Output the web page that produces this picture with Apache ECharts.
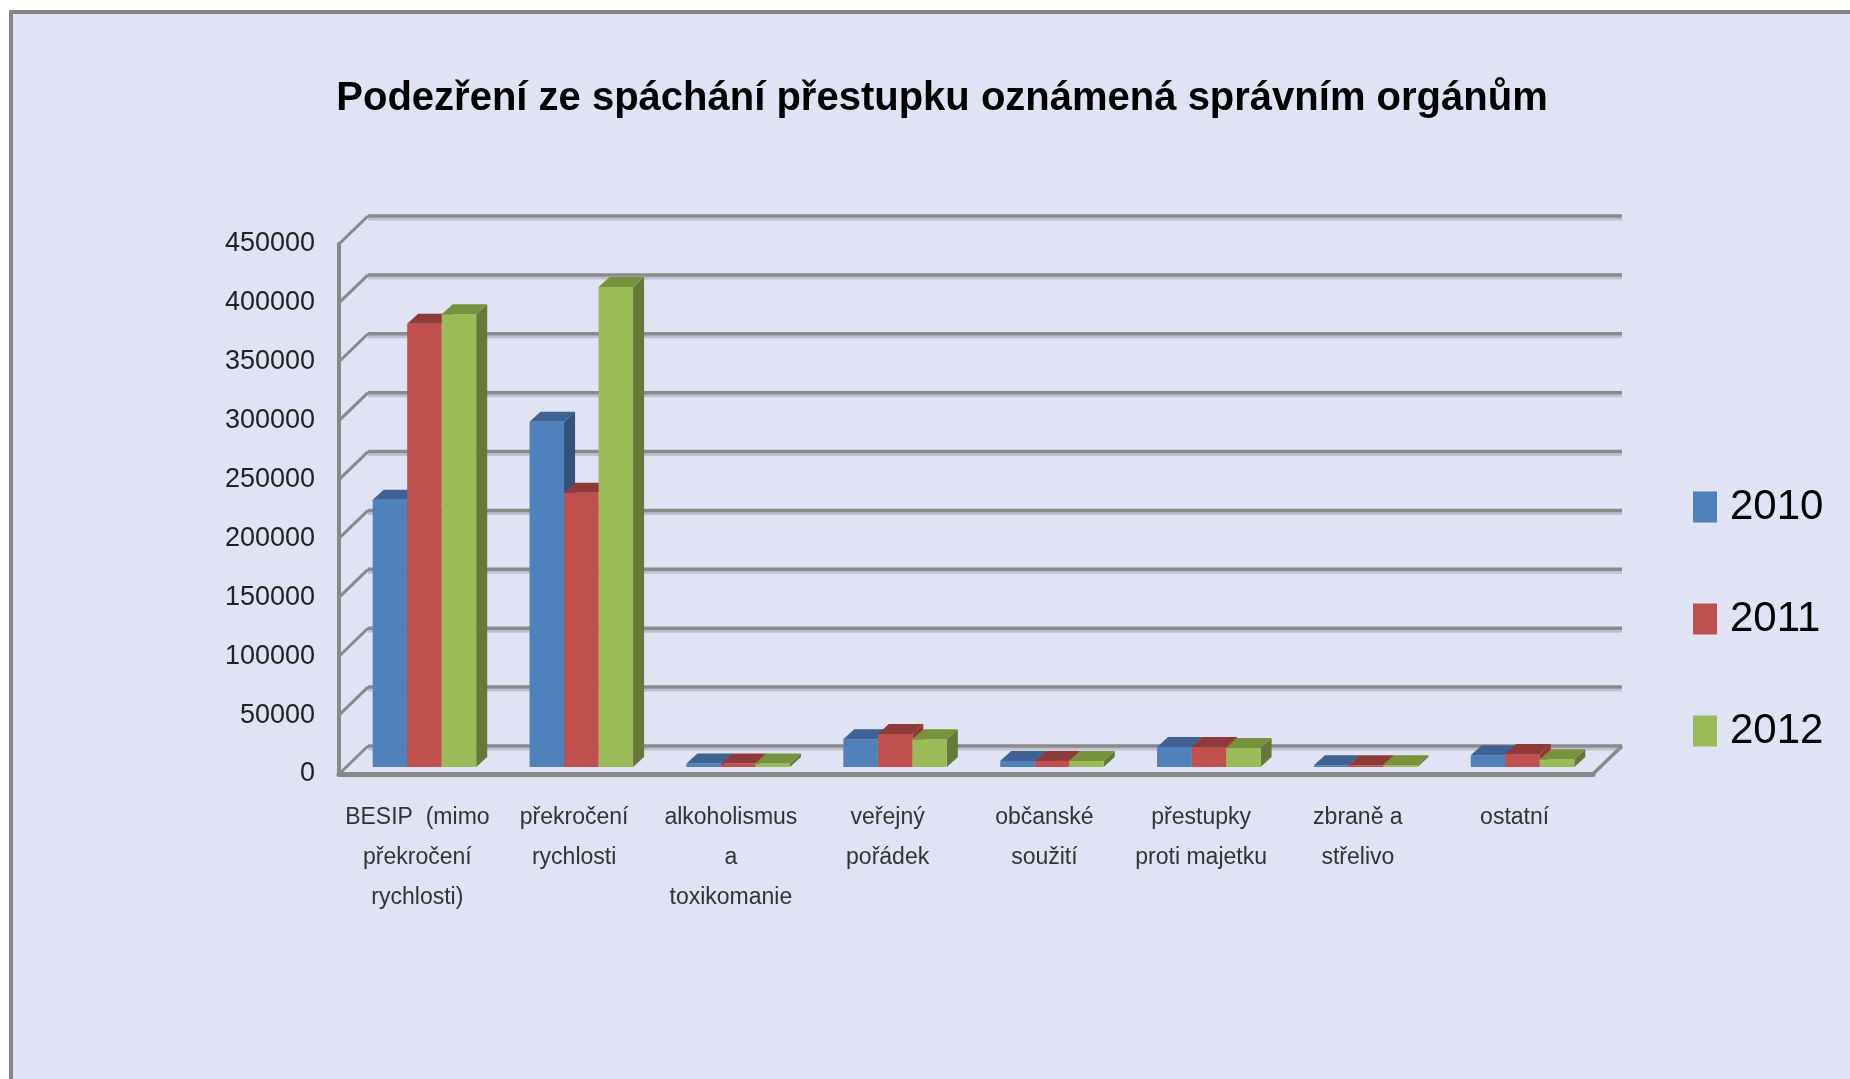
<!DOCTYPE html>
<html lang="cs">
<head>
    <meta charset="UTF-8">
    <title>Podezření ze spáchání přestupku</title>
    <style>
        html, body { margin: 0; padding: 0; background: #fff; overflow: hidden; }
        #main { width: 1850px; height: 1079px; }
    </style>
</head>
<body>
<div id="main"></div>
<script src="https://cdn.jsdelivr.net/npm/echarts@6/dist/echarts.min.js"></script>
<script>
    // data
    var kategorie = [
        'BESIP  (mimo\npřekročení\nrychlosti)',
        'překročení\nrychlosti',
        'alkoholismus\na\ntoxikomanie',
        'veřejný\npořádek',
        'občanské\nsoužití',
        'přestupky\nproti majetku',
        'zbraně a\nstřelivo',
        'ostatní'
    ];
    var roky = ['2010', '2011', '2012'];
    var hodnoty2010 = [226000, 292000, 3000, 23500, 5000, 17000, 1500, 10000];
    var hodnoty2011 = [375000, 232000, 3000, 28000, 5000, 17000, 1500, 11000];
    var hodnoty2012 = [383000, 406000, 3000, 23500, 5000, 16000, 1500, 6500];
    var osaY = [0, 50000, 100000, 150000, 200000, 250000, 300000, 350000, 400000, 450000];

    var barvy = [
        {celo: '#4F81BD', vrch: '#3D6293', bok: '#34517A'},
        {celo: '#C0504D', vrch: '#8E3A38', bok: '#943634'},
        {celo: '#9BBB59', vrch: '#76923C', bok: '#66783A'}
    ];

    // hloubka steny a sloupcu (px)
    var STENA_X = 29, STENA_Y = 28;
    var HLOUBKA_X = 11, HLOUBKA_Y = 10;

    var pismo = "'Liberation Sans', Arial, sans-serif";

    function kresliMrizku(params, api) {
        var v = api.value(1);
        var r = params.coordSys;
        var y = api.coord([0, v])[1];
        var x0 = r.x, x1 = r.x + r.width;
        var yb = y - STENA_Y;
        var deti = [
            {type: 'line', shape: {x1: x0 + STENA_X, y1: yb + 3, x2: x1 + STENA_X, y2: yb + 3},
                style: {stroke: '#BEC2D0', lineWidth: 3}},
            {type: 'line', shape: {x1: x0 + STENA_X, y1: yb, x2: x1 + STENA_X, y2: yb},
                style: {stroke: '#8A8A8A', lineWidth: 3.5}},
            {type: 'line', shape: {x1: x0, y1: y, x2: x0 + STENA_X, y2: yb},
                style: {stroke: '#8A8A8A', lineWidth: 3}}
        ];
        if (v === 0) {
            deti.push({type: 'line', shape: {x1: x1, y1: y, x2: x1 + STENA_X, y2: yb},
                style: {stroke: '#8A8A8A', lineWidth: 3.5}});
        }
        return {type: 'group', children: deti};
    }

    function kresliSloupec(poradi) {
        var b = barvy[poradi];
        return function (params, api) {
            var i = api.value(0);
            var dole = api.coord([i, 0]);
            var nahore = api.coord([i, api.value(1)]);
            var pas = api.size([1, 0])[0];
            var w = pas * 0.22;
            var x = dole[0] - 1.5 * w + poradi * w;
            var y0 = dole[1], y1 = nahore[1];
            return {
                type: 'group',
                children: [
                    {type: 'polygon', shape: {points: [[x + w, y1], [x + w + HLOUBKA_X, y1 - HLOUBKA_Y],
                        [x + w + HLOUBKA_X, y0 - HLOUBKA_Y], [x + w, y0]]}, style: {fill: b.bok}},
                    {type: 'rect', shape: {x: x, y: y1, width: w, height: y0 - y1}, style: {fill: b.celo}},
                    {type: 'polygon', shape: {points: [[x, y1], [x + HLOUBKA_X, y1 - HLOUBKA_Y],
                        [x + w + HLOUBKA_X, y1 - HLOUBKA_Y], [x + w, y1]]}, style: {fill: b.vrch}}
                ]
            };
        };
    }

    function dvojice(arr) {
        return arr.map(function (v, i) { return [i, v]; });
    }

    var myChart = echarts.init(document.getElementById('main'));

    var serie = [{
        type: 'custom',
        name: 'mrizka',
        xAxisIndex: 0,
        yAxisIndex: 0,
        z: 1,
        silent: true,
        renderItem: kresliMrizku,
        data: osaY.map(function (v) { return [0, v]; })
    }];
    [hodnoty2010, hodnoty2011, hodnoty2012].forEach(function (h, k) {
        serie.push({
            type: 'custom',
            name: roky[k],
            xAxisIndex: 1,
            yAxisIndex: 1,
            z: 3,
            itemStyle: {color: barvy[k].celo},
            renderItem: kresliSloupec(k),
            encode: {x: 0, y: 1},
            data: dvojice(h)
        });
    });

    var option = {
        backgroundColor: '#ffffff',
        animation: false,
        graphic: [{
            type: 'rect',
            z: -10,
            shape: {x: 11, y: 12, width: 2000, height: 2000},
            style: {fill: '#DFE3F3', stroke: '#858585', lineWidth: 4}
        }],
        title: {
            text: 'Podezření ze spáchání přestupku oznámená správním orgánům',
            left: 937,
            top: 74,
            textAlign: 'center',
            textStyle: {fontFamily: pismo, fontSize: 40, fontWeight: 'bold', color: '#000'}
        },
        legend: {
            data: roky,
            orient: 'vertical',
            left: 1688,
            top: 481,
            itemWidth: 24,
            itemHeight: 31,
            itemGap: 70,
            icon: 'rect',
            textStyle: {fontFamily: pismo, fontSize: 42, lineHeight: 42, color: '#000', padding: [0, 0, 0, 8]}
        },
        grid: [
            {left: 339, top: 244, width: 1254, height: 530},
            {left: 346, top: 235, width: 1255, height: 532}
        ],
        xAxis: [{
            type: 'category',
            gridIndex: 0,
            data: kategorie,
            axisTick: {show: false},
            axisLine: {lineStyle: {color: '#888888', width: 5}},
            axisLabel: {interval: 0, margin: 24, fontFamily: pismo, fontSize: 23, lineHeight: 40, color: '#333'}
        }, {
            type: 'category',
            gridIndex: 1,
            data: kategorie,
            show: false
        }],
        yAxis: [{
            type: 'value',
            gridIndex: 0,
            min: 0,
            max: 450000,
            interval: 50000,
            splitLine: {show: false},
            axisTick: {show: false},
            axisLine: {show: true, lineStyle: {color: '#888888', width: 4}},
            axisLabel: {
                margin: 24, fontFamily: pismo, fontSize: 27, color: '#222',
                formatter: function (v) { return String(v); }
            }
        }, {
            type: 'value',
            gridIndex: 1,
            min: 0,
            max: 450000,
            show: false,
            splitLine: {show: false}
        }],
        series: serie
    };
    myChart.setOption(option);
</script>
</body>
</html>
